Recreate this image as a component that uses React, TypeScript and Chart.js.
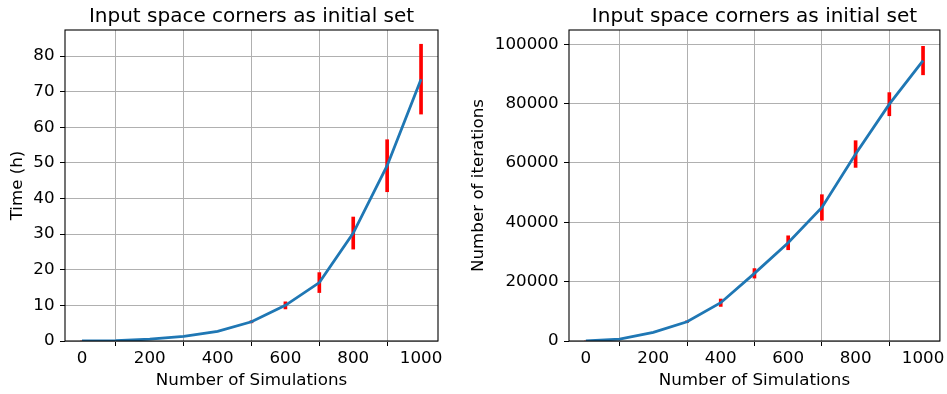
import React, { useEffect, useRef } from "react";
import { Chart, registerables } from "chart.js";

Chart.register(...registerables);

// Simulation counts on the x axis
const simulations = [0, 100, 200, 300, 400, 500, 600, 700, 800, 900, 1000];

// Wall-clock time (hours) and its spread
const timeHours = [0, 0.1, 0.5, 1.3, 2.7, 5.4, 10.0, 16.4, 30.3, 49.2, 73.5];
const timeErr = [0, 0, 0, 0, 0.05, 0.3, 1.0, 2.8, 4.5, 7.3, 9.8];

// Iterations needed and its spread
const iterations = [0, 650, 2900, 6500, 12900, 22800, 33100, 45000, 63000, 79800, 94500];
const iterErr = [0, 0, 0, 300, 1250, 1600, 2350, 4300, 4500, 3900, 4800];

// Tick values
const xTicks = [0, 200, 400, 600, 800, 1000];
const timeTicks = [0, 10, 20, 30, 40, 50, 60, 70, 80];
const iterTicks = [0, 20000, 40000, 60000, 80000, 100000];

const TITLE = "Input space corners as initial set";
const X_LABEL = "Number of Simulations";
const FONT = "'DejaVu Sans', sans-serif";

// Full rectangular frame around the plot area, plus the title centred over it
const framePlugin = {
  id: "frame",
  afterDraw(chart: any) {
    const { ctx, chartArea } = chart;
    ctx.save();
    ctx.strokeStyle = "#000";
    ctx.lineWidth = 1.1;
    ctx.strokeRect(chartArea.left, chartArea.top, chartArea.right - chartArea.left, chartArea.bottom - chartArea.top);
    ctx.fillStyle = "#000";
    ctx.font = `20px ${FONT}`;
    ctx.textAlign = "center";
    ctx.textBaseline = "alphabetic";
    ctx.fillText(TITLE, (chartArea.left + chartArea.right) / 2, 22);
    ctx.restore();
  },
};

type PanelProps = {
  values: number[];
  errs: number[];
  yTicks: number[];
  yMax: number;
  yLabel: string;
  yAxisWidth: number;
  padRight: number;
  yTitlePad: number;
  width: number;
  left: number;
};

function Panel(props: PanelProps) {
  const ref = useRef<HTMLCanvasElement>(null);
  useEffect(() => {
    if (!ref.current) return;
    const { values, errs, yTicks, yMax, yLabel, yAxisWidth, padRight, yTitlePad } = props;
    const lineData = simulations.map((x, i) => ({ x, y: values[i] }));
    const errData = simulations.map((x, i) => ({ x, y: [values[i] - errs[i], values[i] + errs[i]] }));
    const tickFont = { family: FONT, size: 16.7 };
    const chart = new Chart(ref.current, {
      type: "line",
      data: {
        datasets: [
          {
            type: "line",
            data: lineData,
            borderColor: "#1f77b4",
            borderWidth: 2.8,
            pointRadius: 0,
            tension: 0,
            fill: false,
            order: 0,
          } as any,
          {
            type: "bar",
            data: errData,
            backgroundColor: "#ff0000",
            borderWidth: 0,
            barThickness: 3,
            order: 1,
          } as any,
        ],
      },
      options: {
        animation: false,
        responsive: false,
        layout: { padding: { left: 0, right: padRight, top: 30, bottom: 0 } },
        plugins: {
          legend: { display: false },
          tooltip: { enabled: false },
          title: { display: false },
        },
        scales: {
          x: {
            type: "linear",
            min: -50,
            max: 1050,
            offset: false,
            afterBuildTicks: (s: any) => {
              s.ticks = xTicks.map((v) => ({ value: v }));
            },
            afterFit: (s: any) => {
              s.height = 53;
            },
            grid: { color: "#b0b0b0", lineWidth: 1, tickColor: "#000", tickLength: 5 },
            border: { display: false },
            ticks: {
              color: "#000",
              font: tickFont,
              padding: 2.5,
              maxRotation: 0,
              autoSkip: false,
              callback: (v: any) => String(v),
            },
            title: {
              display: true,
              text: X_LABEL,
              color: "#000",
              font: tickFont,
              padding: { top: 0, bottom: 3 },
            },
          },
          y: {
            type: "linear",
            min: 0,
            max: yMax,
            afterBuildTicks: (s: any) => {
              s.ticks = yTicks.map((v) => ({ value: v }));
            },
            afterFit: (s: any) => {
              s.width = yAxisWidth;
            },
            grid: { color: "#b0b0b0", lineWidth: 1, tickColor: "#000", tickLength: 5 },
            border: { display: false },
            ticks: { color: "#000", font: tickFont, padding: 5.5, autoSkip: false, callback: (v: any) => String(v) },
            title: {
              display: true,
              text: yLabel,
              color: "#000",
              font: tickFont,
              padding: { top: yTitlePad, bottom: 0 },
            },
          },
        },
      },
      plugins: [framePlugin],
    } as any);
    return () => chart.destroy();
  }, []);
  return (
    <canvas
      ref={ref}
      width={props.width}
      height={394}
      style={{ position: "absolute", left: props.left, top: 0, width: props.width, height: 394 }}
    />
  );
}

export default function App() {
  return (
    <div style={{ position: "fixed", left: 0, top: 0, width: 947, height: 394, background: "#fff" }}>
      <Panel
        values={timeHours}
        errs={timeErr}
        yTicks={timeTicks}
        yMax={87.3}
        yLabel="Time (h)"
        yAxisWidth={65}
        padRight={32}
        yTitlePad={8}
        width={470}
        left={0}
      />
      <Panel
        values={iterations}
        errs={iterErr}
        yTicks={iterTicks}
        yMax={104800}
        yLabel="Number of iterations"
        yAxisWidth={100}
        padRight={5}
        yTitlePad={0}
        width={478}
        left={469}
      />
    </div>
  );
}
